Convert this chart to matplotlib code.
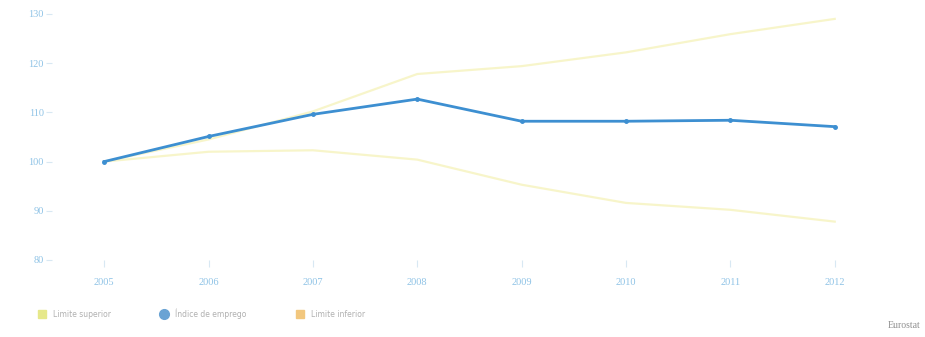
import matplotlib
matplotlib.use('Agg')
from matplotlib import pyplot as plt
from matplotlib.lines import Line2D

years = [2005, 2006, 2007, 2008, 2009, 2010, 2011, 2012]
index_mid = [100, 105.1, 109.6, 112.7, 108.2, 108.2, 108.4, 107.1]
upper = [100, 104.5, 110.2, 117.8, 119.4, 122.2, 125.9, 129.0]
lower = [100, 102.0, 102.3, 100.4, 95.3, 91.6, 90.2, 87.8]
y_ticks = [80, 90, 100, 110, 120, 130]

labels = ['Limite superior', 'Índice de emprego', 'Limite inferior']

blue = '#3d8fd1'
yellow = '#f5f1b4'
tick_col = '#8fc3e6'

fig = plt.figure(figsize=(9.25, 3.37), dpi=100)
ax = fig.add_axes([0.0562, 0.2285, 0.884, 0.73])

ax.plot(years, upper, color=yellow, lw=1.6, alpha=0.7, zorder=1)
ax.plot(years, lower, color=yellow, lw=1.6, alpha=0.7, zorder=1)
ax.plot(years, index_mid, color=blue, lw=2, marker='o', ms=2.5, zorder=2)

ax.set_xlim(2004.5, 2012.335)
ax.set_ylim(80, 130)
ax.set_xticks(years)
ax.set_yticks(y_ticks)
ax.set_xticklabels([str(y) for y in years])
for s in ax.spines.values():
    s.set_visible(False)
ax.tick_params(axis='y', length=4, color='#d8e8f3', labelsize=7.5, labelcolor=tick_col, pad=2)
ax.tick_params(axis='x', length=5, color='#d8e8f3', labelsize=7.5, labelcolor=tick_col, pad=8)
for t in ax.get_xticklabels() + ax.get_yticklabels():
    t.set_family('Liberation Serif')

handles = [
    Line2D([], [], ls='none', marker='s', ms=6, color='#e6e88a'),
    Line2D([], [], ls='none', marker='o', ms=7, color='#6aa3d4'),
    Line2D([], [], ls='none', marker='s', ms=6, color='#f2c77e'),
]
fig.legend(handles, labels, loc='center left', bbox_to_anchor=(0.03, 0.07),
           ncol=3, frameon=False, fontsize=5.5, labelcolor='#b0b0b0',
           handletextpad=0.4, columnspacing=6)

fig.text(0.995, 0.035, 'Eurostat', ha='right', va='center', fontsize=7,
         color='#909090', family='Liberation Serif')

fig.savefig('out.png', dpi=100)
